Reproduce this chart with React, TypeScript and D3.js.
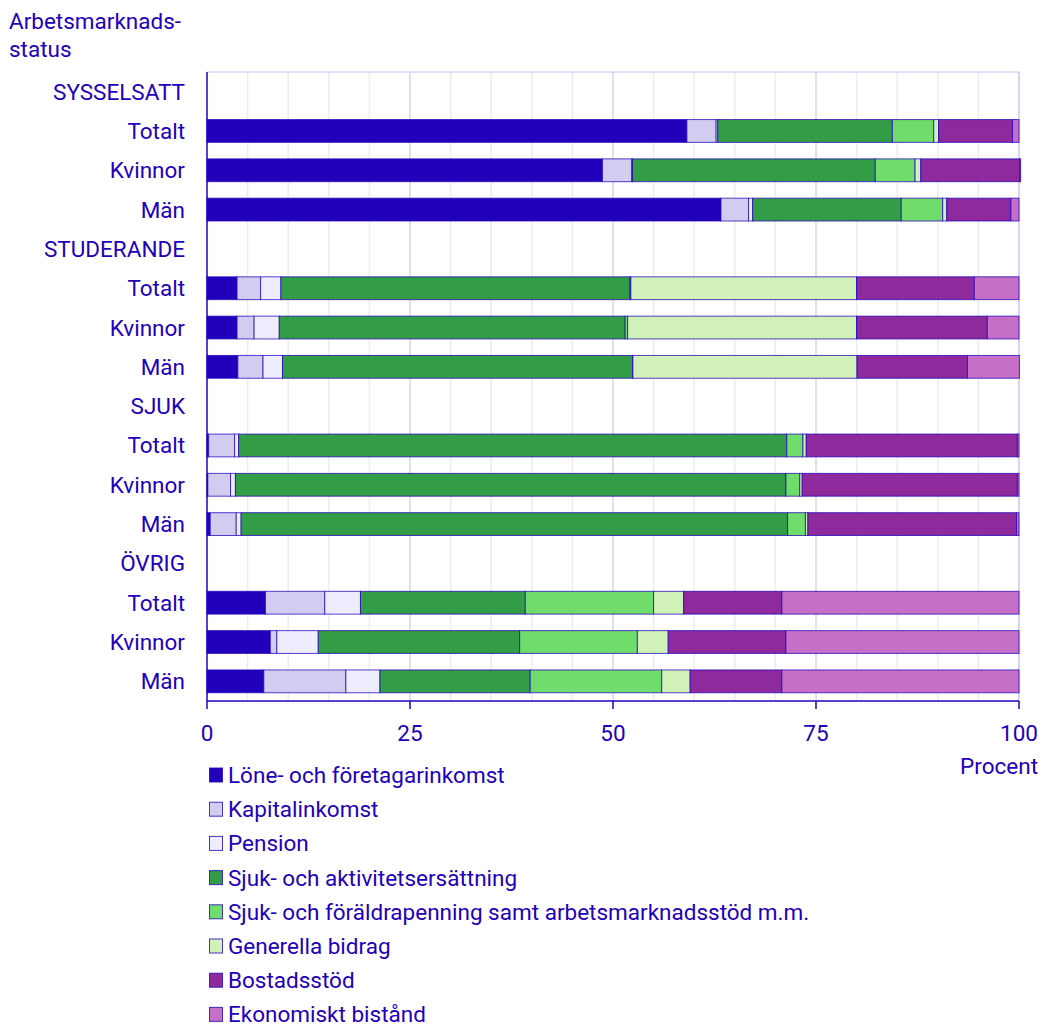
import React from "react";
import * as d3 from "d3";

const groups = ["SYSSELSATT", "STUDERANDE", "SJUK", "ÖVRIG"];
const subgroups = ["Totalt", "Kvinnor", "Män"];

const seriesNames = [
  "Löne- och företagarinkomst",
  "Kapitalinkomst",
  "Pension",
  "Sjuk- och aktivitetsersättning",
  "Sjuk- och föräldrapenning samt arbetsmarknadsstöd m.m.",
  "Generella bidrag",
  "Bostadsstöd",
  "Ekonomiskt bistånd",
];
const seriesColors = ["#2200bb", "#d1ccf0", "#eeedfd", "#339c46", "#6fdc6c", "#d0f1b8", "#8e2a9c", "#c66fc7"];

// order: SYSSELSATT (T,K,M), STUDERANDE (T,K,M), SJUK (T,K,M), ÖVRIG (T,K,M)
const lone = [59.1, 48.7, 63.3, 3.7, 3.7, 3.8, 0.2, 0.1, 0.4, 7.2, 7.8, 7.0];
const kapital = [3.6, 3.6, 3.4, 2.9, 2.1, 3.1, 3.2, 2.8, 3.2, 7.3, 0.8, 10.1];
const pension = [0.2, 0.1, 0.5, 2.5, 3.1, 2.4, 0.5, 0.6, 0.6, 4.4, 5.1, 4.2];
const sjukAkt = [21.5, 29.9, 18.3, 43.0, 42.6, 43.1, 67.5, 67.8, 67.3, 20.3, 24.8, 18.5];
const sjukForald = [5.1, 4.9, 5.1, 0.1, 0.3, 0.05, 2.0, 1.7, 2.2, 15.8, 14.5, 16.2];
const generella = [0.6, 0.7, 0.5, 27.8, 28.2, 27.6, 0.4, 0.3, 0.3, 3.7, 3.8, 3.5];
const bostad = [9.1, 12.2, 7.9, 14.5, 16.1, 13.6, 26.0, 26.5, 25.7, 12.1, 14.5, 11.3];
const ekBistand = [0.8, 0.1, 1.0, 5.5, 3.9, 6.4, 0.2, 0.2, 0.3, 29.2, 28.7, 29.2];

const seriesValues = [lone, kapital, pension, sjukAkt, sjukForald, generella, bostad, ekBistand];

const xTicks = [0, 25, 50, 75, 100];
const minorTicks = d3.range(0, 101, 5);

const FONT = "Roboto, 'Noto Sans', sans-serif";
const TEXT = "#2200bb";

export default function App() {
  const width = 1040;
  const height = 1024;
  const left = 207;
  const right = 1019;
  const top = 72;
  const bottom = 701;
  const fs = 22.5;

  type Row = { key: string; label: string; header: boolean; idx: number };
  const rows: Row[] = [];
  let bi = 0;
  groups.forEach((g, gi) => {
    rows.push({ key: "h" + gi, label: g, header: true, idx: -1 });
    subgroups.forEach((s) => {
      rows.push({ key: "b" + bi, label: s, header: false, idx: bi });
      bi++;
    });
  });

  const x = d3.scaleLinear().domain([0, 100]).range([left, right]);
  const y = d3
    .scaleBand<string>()
    .domain(rows.map((r) => r.key))
    .range([top, bottom])
    .paddingInner(0.42)
    .paddingOuter(0.21);

  const stackData = lone.map((_, i) => {
    const o: Record<string, number> = {};
    seriesNames.forEach((n, s) => (o[n] = seriesValues[s][i]));
    return o;
  });
  const stacked = d3.stack<Record<string, number>>().keys(seriesNames)(stackData);

  const legendY0 = 775;
  const legendStep = 34.2;

  return (
    <svg
      width={width}
      height={height}
      style={{ position: "absolute", left: 0, top: 0, background: "#fff" }}
      fontFamily={FONT}
    >
      {/* title */}
      <text x={9} y={29} fontSize={fs} fill={TEXT}>Arbetsmarknads-</text>
      <text x={9} y={57} fontSize={fs} fill={TEXT}>status</text>

      {/* minor grid */}
      {minorTicks.filter((t) => t % 25 !== 0).map((t) => (
        <line key={"m" + t} x1={x(t)} x2={x(t)} y1={top} y2={bottom} stroke="#ececf2" strokeWidth={1.5} />
      ))}
      {/* major grid */}
      {xTicks.filter((t) => t !== 0).map((t) => (
        <line key={"M" + t} x1={x(t)} x2={x(t)} y1={top} y2={bottom} stroke="#d6d4f3" strokeWidth={t === 100 ? 2 : 1.5} />
      ))}
      <line x1={left} x2={right} y1={top} y2={top} stroke="#d6d4f3" strokeWidth={1.5} />

      {/* bars */}
      {stacked.map((layer, s) => (
        <g key={layer.key}>
          {layer.map((d, i) => {
            const w = x(d[1]) - x(d[0]);
            if (w <= 0) return null;
            return (
              <rect
                key={i}
                x={x(d[0])}
                y={y("b" + i)}
                width={w}
                height={y.bandwidth()}
                fill={seriesColors[s]}
                stroke="#2200bb"
                strokeOpacity={0.75}
                strokeWidth={1}
              />
            );
          })}
        </g>
      ))}

      {/* axes */}
      <line x1={left} x2={left} y1={top} y2={bottom} stroke={TEXT} strokeWidth={1.5} />
      <line x1={left} x2={right} y1={bottom} y2={bottom} stroke={TEXT} strokeWidth={1.5} />
      {xTicks.map((t) => (
        <g key={"t" + t}>
          <line x1={x(t)} x2={x(t)} y1={bottom} y2={bottom + 8} stroke={TEXT} strokeWidth={1.5} />
          <text x={x(t)} y={733} fontSize={fs} fill={TEXT} textAnchor="middle" dominantBaseline="central">
            {t}
          </text>
        </g>
      ))}
      <text x={1038} y={774} fontSize={fs} fill={TEXT} textAnchor="end">Procent</text>

      {/* y labels */}
      {rows.map((r) => (
        <text
          key={"l" + r.key}
          x={185}
          y={(y(r.key) as number) + y.bandwidth() / 2}
          fontSize={fs}
          fill={TEXT}
          textAnchor="end"
          dominantBaseline="central"
        >
          {r.label}
        </text>
      ))}

      {/* legend */}
      {seriesNames.map((n, i) => (
        <g key={"lg" + i} transform={`translate(0, ${legendY0 + i * legendStep})`}>
          <rect x={209.5} y={-7} width={13} height={14} fill={seriesColors[i]} stroke="#2200bb" strokeOpacity={0.8} strokeWidth={1} />
          <text x={228} y={0} fontSize={fs} fill={TEXT} dominantBaseline="central">
            {n}
          </text>
        </g>
      ))}
    </svg>
  );
}
